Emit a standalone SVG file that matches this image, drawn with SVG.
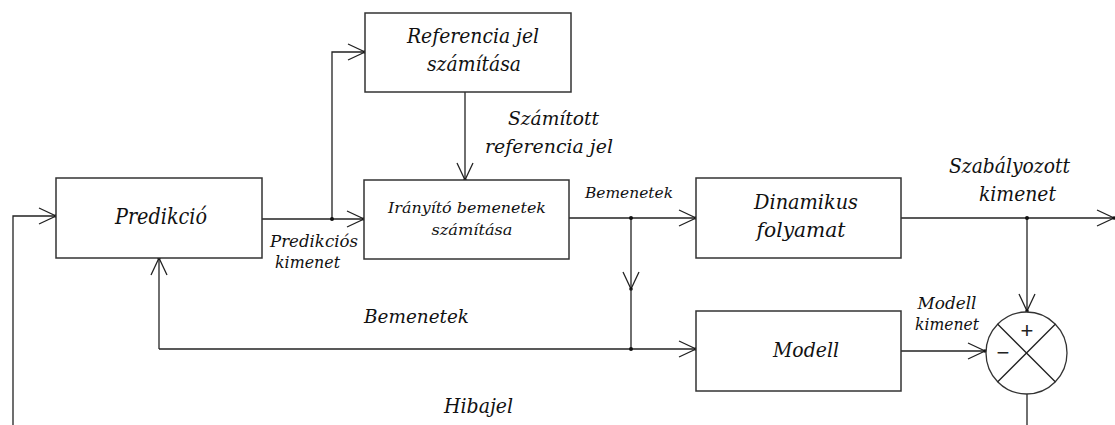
<svg xmlns="http://www.w3.org/2000/svg" width="1115" height="425" viewBox="0 0 1115 425">
<style>
.box{fill:#fff;stroke:#333;stroke-width:1.5}
.ln{fill:none;stroke:#222;stroke-width:1.3}
.arr{marker-end:url(#arr)}
.t{font-family:'DejaVu Serif','Liberation Serif',serif;font-style:italic;fill:#111;text-anchor:middle}
.s{font-family:'Liberation Sans',Arial,sans-serif;fill:#222;text-anchor:middle}
.dot{fill:#111}
</style>
<defs>
<marker id="arr" markerUnits="userSpaceOnUse" viewBox="-20 -10 22 20" markerWidth="22" markerHeight="20" refX="0" refY="0" orient="auto" overflow="visible">
<path d="M-17,-8 L0,0 L-17,8" fill="none" stroke="#222" stroke-width="1.3"/>
<circle cx="0" cy="0" r="1.8" fill="#111"/>
</marker>
</defs>
<rect width="1115" height="425" fill="#fff"/>
<g id="connectors">
<path class="ln arr" d="M13,425 V216 H56"/>
<path class="ln arr" d="M262,219 H364"/>
<path class="ln arr" d="M332,219 V52 H365"/>
<path class="ln arr" d="M465,92 V180"/>
<path class="ln arr" d="M569,218 H696"/>
<path class="ln arr" d="M631,218 V289"/>
<path class="ln" d="M631,289 V349"/>
<path class="ln arr" d="M159,349 H696"/>
<path class="ln arr" d="M159,349 V258"/>
<path class="ln arr" d="M901,218 H1114"/>
<path class="ln arr" d="M1027,218 V311"/>
<path class="ln arr" d="M901,351 H985"/>
<path class="ln" d="M1027,394 V425"/>
<circle class="dot" cx="332" cy="219" r="2"/>
<circle class="dot" cx="631" cy="218" r="2"/>
<circle class="dot" cx="631" cy="349" r="2"/>
<circle class="dot" cx="1027" cy="218" r="2"/>
</g>
<g id="predikcio">
<rect class="box" x="56" y="178" width="206" height="80"/>
<text class="t" x="161" y="224" font-size="21.5" textLength="92" lengthAdjust="spacingAndGlyphs">Predikció</text>
</g>
<g id="referencia">
<rect class="box" x="365" y="13" width="206" height="79"/>
<text class="t" x="473" y="43" font-size="20.5" textLength="132" lengthAdjust="spacingAndGlyphs">Referencia jel</text>
<text class="t" x="474" y="71" font-size="20.5" textLength="94" lengthAdjust="spacingAndGlyphs">számítása</text>
</g>
<g id="iranyito">
<rect class="box" x="364" y="180" width="205" height="79"/>
<text class="t" x="467" y="213" font-size="15.5" textLength="158" lengthAdjust="spacingAndGlyphs">Irányító bemenetek</text>
<text class="t" x="472" y="235" font-size="15.5" textLength="81" lengthAdjust="spacingAndGlyphs">számítása</text>
</g>
<g id="dinamikus">
<rect class="box" x="696" y="178" width="205" height="80"/>
<text class="t" x="806" y="209" font-size="20" textLength="104" lengthAdjust="spacingAndGlyphs">Dinamikus</text>
<text class="t" x="801" y="237" font-size="20" textLength="89" lengthAdjust="spacingAndGlyphs">folyamat</text>
</g>
<g id="modell">
<rect class="box" x="696" y="311" width="205" height="80"/>
<text class="t" x="806" y="357" font-size="20" textLength="66" lengthAdjust="spacingAndGlyphs">Modell</text>
</g>
<g id="osszegzo">
<ellipse cx="1026.5" cy="353" rx="40.5" ry="41" fill="#fff" stroke="#333" stroke-width="1.3"/>
<path class="ln" d="M997.5,324 L1055.5,382 M1055.5,324 L997.5,382" stroke-width="1"/>
<text class="s" x="1027" y="338" font-size="22">+</text>
<text class="s" x="1003" y="360" font-size="22">−</text>
</g>
<g id="labels">
<text class="t" x="553.5" y="125" font-size="19" textLength="91" lengthAdjust="spacingAndGlyphs">Számított</text>
<text class="t" x="549" y="153" font-size="19" textLength="128" lengthAdjust="spacingAndGlyphs">referencia jel</text>
<text class="t" x="629" y="198" font-size="14.5" textLength="88" lengthAdjust="spacingAndGlyphs">Bemenetek</text>
<text class="t" x="314" y="247" font-size="17" textLength="88" lengthAdjust="spacingAndGlyphs">Predikciós</text>
<text class="t" x="307.5" y="268" font-size="17" textLength="65" lengthAdjust="spacingAndGlyphs">kimenet</text>
<text class="t" x="416.5" y="323" font-size="19" textLength="105" lengthAdjust="spacingAndGlyphs">Bemenetek</text>
<text class="t" x="478.5" y="413" font-size="20.5" textLength="69" lengthAdjust="spacingAndGlyphs">Hibajel</text>
<text class="t" x="1009.5" y="173" font-size="19.5" textLength="121" lengthAdjust="spacingAndGlyphs">Szabályozott</text>
<text class="t" x="1017.5" y="201" font-size="19.5" textLength="77" lengthAdjust="spacingAndGlyphs">kimenet</text>
<text class="t" x="947" y="309" font-size="16" textLength="59" lengthAdjust="spacingAndGlyphs">Modell</text>
<text class="t" x="947" y="330" font-size="16" textLength="64" lengthAdjust="spacingAndGlyphs">kimenet</text>
</g>
</svg>
